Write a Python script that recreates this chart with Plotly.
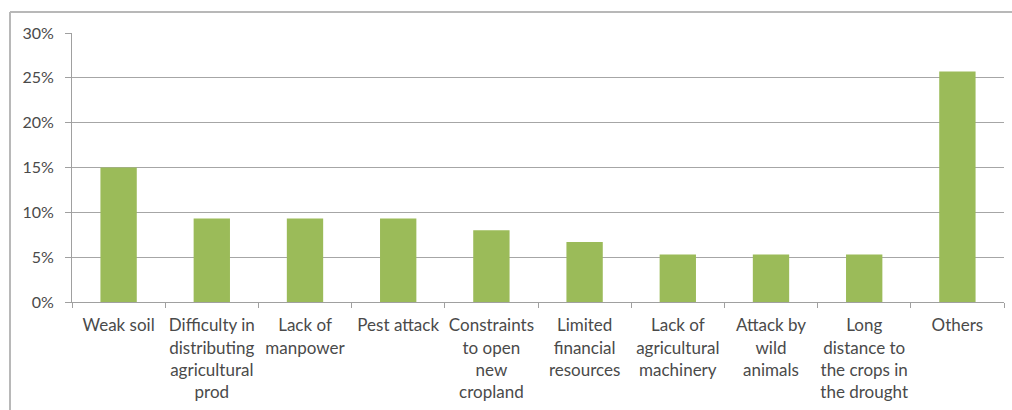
import plotly.graph_objects as go

categories = [
    "Weak soil",
    "Difficulty in<br>distributing<br>agricultural<br>prod",
    "Lack of<br>manpower",
    "Pest attack",
    "Constraints<br>to open<br>new<br>cropland",
    "Limited<br>financial<br>resources",
    "Lack of<br>agricultural<br>machinery",
    "Attack by<br>wild<br>animals",
    "Long<br>distance to<br>the crops in<br>the drought",
    "Others",
]
values = [15.0, 9.3, 9.3, 9.3, 8.0, 6.7, 5.3, 5.3, 5.3, 25.7]
y_ticks = [0, 5, 10, 15, 20, 25, 30]
y_tick_labels = [f"{v}%" for v in y_ticks]

W, H = 1012, 410
L, R, T, B = 72, 8, 33, 108

fig = go.Figure(go.Bar(x=categories, y=values, marker_color="#9bbb59",
                       marker_line_width=0))

fig.update_layout(
    width=W, height=H,
    margin=dict(l=L, r=R, t=T, b=B),
    paper_bgcolor="white", plot_bgcolor="white",
    bargap=0.61,
    showlegend=False,
    font=dict(family="Lato", size=15, color="#4a4a4a"),
)
fig.update_xaxes(
    showline=True, linecolor="#a0a0a0", linewidth=1,
    ticks="outside", tickson="boundaries", ticklen=5, tickcolor="#a0a0a0",
    tickfont=dict(family="Lato", size=17, color="#4a4a4a"),
    tickangle=0, automargin=False, ticklabelstandoff=8,
    showgrid=False,
)
fig.update_yaxes(
    range=[0, 30], tickvals=y_ticks, ticktext=y_tick_labels,
    showline=True, linecolor="#a0a0a0", linewidth=1,
    ticks="outside", ticklen=6, tickcolor="#a0a0a0",
    showgrid=True, gridcolor="#a6a6a6", gridwidth=1,
    tickfont=dict(family="Lato", size=16, color="#4a4a4a"),
    automargin=False, ticklabelstandoff=8,
    zeroline=False,
)

pw = W - L - R
ph = H - T - B
# outer chart border (top and left)
fig.add_shape(type="line", xref="paper", yref="paper",
              x0=(10 - L) / pw, x1=(W - L) / pw,
              y0=(H - B - 12) / ph, y1=(H - B - 12) / ph,
              line=dict(color="#b8b8b8", width=2))
fig.add_shape(type="line", xref="paper", yref="paper",
              x0=(10 - L) / pw, x1=(10 - L) / pw,
              y0=(H - B - 12) / ph, y1=(H - B - H - 5) / ph,
              line=dict(color="#b8b8b8", width=2))

fig.write_html("out.html")
